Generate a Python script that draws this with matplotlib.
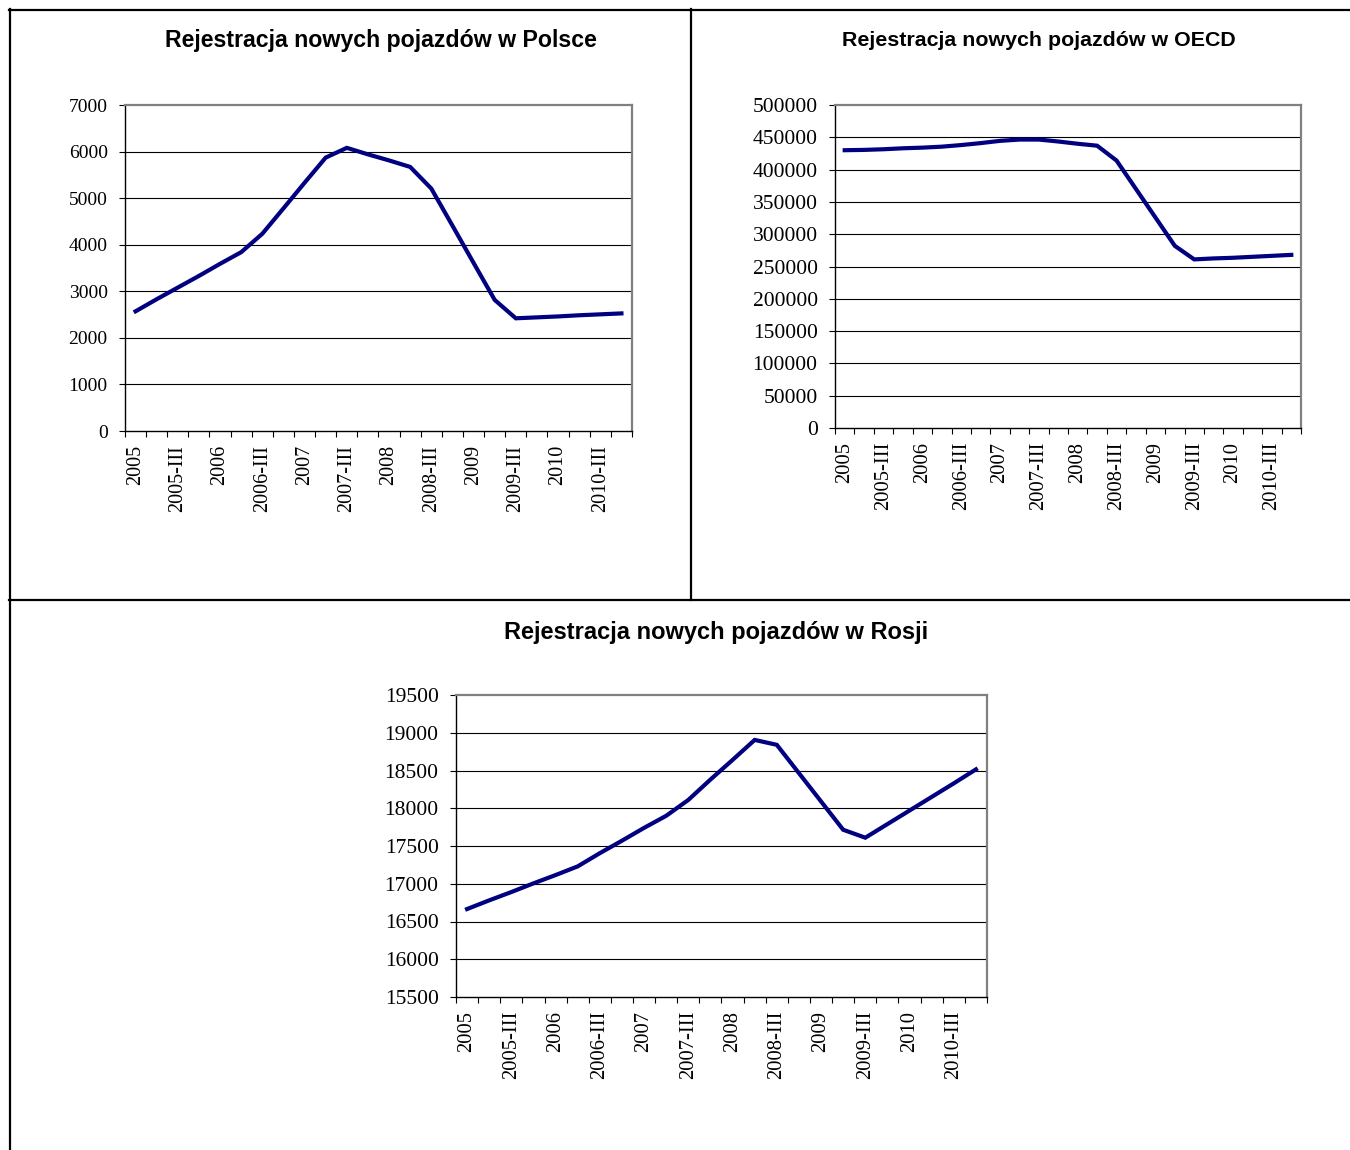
import matplotlib
matplotlib.use("Agg")
import matplotlib.pyplot as plt
from matplotlib.lines import Line2D
import numpy as np

# quarterly categories 2005-I .. 2010-IV, every second one labelled
years = ["2005", "2006", "2007", "2008", "2009", "2010"]
quarter_labels = []
for y in years:
    quarter_labels += [y, y + "-II", y + "-III", y + "-IV"]

poland = [2570, 2830, 3080, 3330, 3590, 3840, 4235, 4780, 5330, 5870, 6080, 5940,
          5810, 5670, 5205, 4410, 3610, 2815, 2420, 2440, 2460, 2485, 2505, 2525]
oecd = [430000, 430500, 431500, 433000, 434000, 435500, 438000, 441000, 444500,
        446500, 446500, 443500, 440000, 437000, 414000, 370000, 326000, 282000,
        261000, 262500, 263500, 265000, 266500, 268000]
russia = [16665, 16780, 16890, 17005, 17115, 17230, 17405, 17570, 17740, 17900,
          18110, 18380, 18640, 18905, 18840, 18465, 18090, 17715, 17610, 17790,
          17970, 18150, 18330, 18515]

titles = ["Rejestracja nowych pojazdów w Polsce",
          "Rejestracja nowych pojazdów w OECD",
          "Rejestracja nowych pojazdów w Rosji"]

W, H = 1350, 1150
fig = plt.figure(figsize=(W / 100, H / 100), dpi=100)


def px_rect(left, top, right, bottom):
    return [left / W, 1 - bottom / H, (right - left) / W, (bottom - top) / H]


def draw_panel(rect, values, ymin, ymax, ystep, yfs, xfs):
    ax = fig.add_axes(rect)
    x = np.arange(len(values))
    ax.plot(x, values, color="#000080", lw=3.0, solid_joinstyle="miter")
    ax.set_xlim(-0.5, len(values) - 0.5)
    ax.set_ylim(ymin, ymax)
    yt = np.arange(ymin, ymax + ystep / 2, ystep)
    ax.set_yticks(yt)
    ax.set_yticklabels([str(int(v)) for v in yt])
    for v in yt[1:-1]:
        ax.axhline(v, color="black", lw=0.8, zorder=0)
    ax.set_xticks(x[::2])
    ax.set_xticklabels(quarter_labels[::2], rotation=90, va="top", ha="center")
    ax.set_xticks(np.arange(-0.5, len(values)), minor=True)
    ax.tick_params(axis="x", which="major", length=0, pad=10)
    ax.tick_params(axis="x", which="minor", length=4.5, width=0.8, direction="out")
    ax.tick_params(axis="y", length=4.5, width=0.8, direction="out", pad=8)
    for lab in ax.get_yticklabels():
        lab.set_fontfamily("Liberation Serif")
        lab.set_fontsize(yfs)
    for lab in ax.get_xticklabels():
        lab.set_fontfamily("Liberation Serif")
        lab.set_fontsize(xfs)
    ax.spines["left"].set_color("black")
    ax.spines["bottom"].set_color("black")
    ax.spines["left"].set_linewidth(1.0)
    ax.spines["bottom"].set_linewidth(1.0)
    for s in ("top", "right"):
        ax.spines[s].set_color("#808080")
        ax.spines[s].set_linewidth(1.6)
    return ax


draw_panel(px_rect(125, 105, 632, 431), poland, 0, 7000, 1000, 14, 14.5)
draw_panel(px_rect(835, 105, 1301, 428), oecd, 0, 500000, 50000, 15.5, 14.8)
draw_panel(px_rect(456, 695, 987, 997), russia, 15500, 19500, 500, 15.5, 14.8)

title_kw = dict(fontfamily="Liberation Sans", fontweight="bold",
                ha="center", va="center", color="black")
fig.text(381 / W, 1 - 40 / H, titles[0], fontsize=16.7, **title_kw)
fig.text(1039 / W, 1 - 40 / H, titles[1], fontsize=15.4, **title_kw)
fig.text(716 / W, 1 - 632 / H, titles[2], fontsize=17.0, **title_kw)

# table frame around the panels
def hline(y, x0, x1):
    fig.add_artist(Line2D([x0 / W, x1 / W], [1 - y / H, 1 - y / H],
                          color="black", lw=1.6))

def vline(x, y0, y1):
    fig.add_artist(Line2D([x / W, x / W], [1 - y0 / H, 1 - y1 / H],
                          color="black", lw=1.6))

hline(10, 9, W)
hline(600, 9, W)
vline(10, 9, H)
vline(691, 9, 600)

fig.savefig("out.png", dpi=100, facecolor="white")
